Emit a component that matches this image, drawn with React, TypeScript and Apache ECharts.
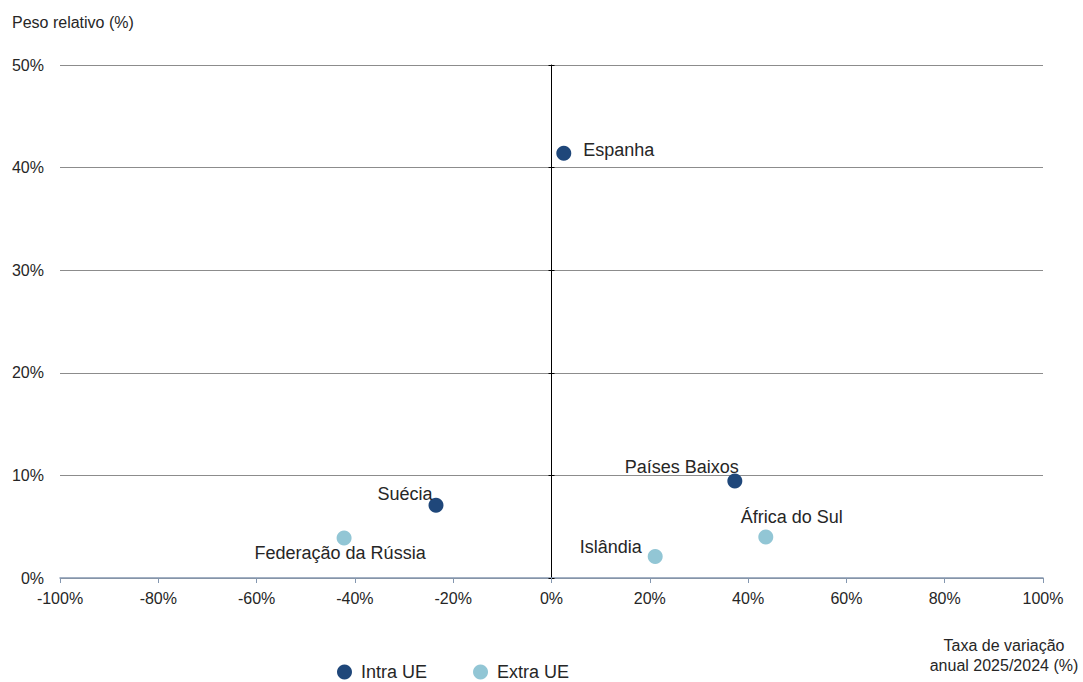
import React, { useEffect, useRef } from "react";
import * as echarts from "echarts";

const intraNames = ["Espanha", "Países Baixos", "Suécia"];
const intraX = [2.5, 37.3, -23.5];
const intraY = [41.4, 9.45, 7.1];

const extraNames = ["Federação da Rússia", "Islândia", "África do Sul"];
const extraX = [-42.2, 21.1, 43.6];
const extraY = [3.9, 2.1, 4.0];

const xTicks = [-100, 100, 20];
const yTicks = [0, 50, 10];

const labelCfg: Record<string, any> = {
  "Espanha": { position: "right", distance: 12, offset: [0, -3] },
  "Países Baixos": { position: "top", offset: [-53, 7] },
  "Suécia": { position: "top", offset: [-31, 10] },
  "Federação da Rússia": { position: "bottom", offset: [-4, -6] },
  "Islândia": { position: "left", distance: 6, offset: [0, -9] },
  "África do Sul": { position: "top", offset: [26, 2] },
};

const DARK = "#1f477a";
const LIGHT = "#92c6d5";
const TXT = "#262626";
const FONT = "Liberation Sans, Arial, sans-serif";

function mk(names: string[], xs: number[], ys: number[]) {
  return names.map((n, i) => ({
    name: n,
    value: [xs[i], ys[i]],
    label: { show: true, formatter: n, ...labelCfg[n] },
  }));
}

const GRID_W = 1083 - 60 - 40;

export default function App() {
  const ref = useRef<HTMLDivElement>(null);
  useEffect(() => {
    const chart = echarts.init(ref.current!, null, { renderer: "svg" });
    const yBase = {
      type: "value",
      min: yTicks[0],
      max: yTicks[1],
      interval: yTicks[2],
    };
    chart.setOption({
      animation: false,
      textStyle: { fontFamily: FONT },
      grid: { left: 60, right: 40, top: 65, bottom: 104 },
      graphic: [
        {
          type: "text",
          left: 12,
          top: 14,
          style: { text: "Peso relativo (%)", font: `16px ${FONT}`, fill: TXT },
        },
        {
          type: "text",
          x: 1004,
          y: 635,
          style: {
            text: "Taxa de variação\nanual 2025/2024 (%)",
            font: `16px ${FONT}`,
            fill: TXT,
            align: "center",
            lineHeight: 20,
          },
        },
      ],
      legend: {
        left: 337,
        top: 663,
        padding: 0,
        itemWidth: 15,
        itemHeight: 15,
        itemGap: 46,
        icon: "circle",
        textStyle: { fontSize: 18, lineHeight: 16, color: TXT, fontFamily: FONT, padding: [0, 0, 0, 4] },
        data: ["Intra UE", "Extra UE"],
      },
      xAxis: {
        type: "value",
        min: xTicks[0],
        max: xTicks[1],
        interval: xTicks[2],
        axisLine: { onZero: false, lineStyle: { color: "#8497b0", width: 1.5 } },
        axisTick: { show: true, length: 5, lineStyle: { color: "#8497b0" } },
        splitLine: { show: false },
        axisLabel: {
          formatter: (v: number) => `${v}%`,
          fontSize: 16,
          color: TXT,
          margin: 12,
        },
      },
      yAxis: [
        {
          ...yBase,
          axisLine: { show: false },
          axisTick: { show: false },
          splitLine: { show: true, lineStyle: { color: "#8c8c8c", width: 1 } },
          axisLabel: {
            formatter: (v: number) => `${v}%`,
            fontSize: 16,
            color: TXT,
            margin: 16,
          },
        },
        {
          ...yBase,
          position: "left",
          offset: -GRID_W / 2,
          axisLine: { show: true, onZero: false, lineStyle: { color: "#000", width: 1 } },
          axisTick: { show: true, length: 3, lineStyle: { color: "#000" } },
          splitLine: { show: false },
          axisLabel: { show: false },
        },
        {
          ...yBase,
          position: "left",
          offset: -GRID_W / 2,
          axisLine: { show: false },
          axisTick: { show: true, inside: true, length: 3, lineStyle: { color: "#000" } },
          splitLine: { show: false },
          axisLabel: { show: false },
        },
      ],
      series: [
        {
          name: "Intra UE",
          type: "scatter",
          symbolSize: 15,
          itemStyle: { color: DARK, opacity: 1 },
          label: { color: TXT, fontSize: 18, fontFamily: FONT },
          data: mk(intraNames, intraX, intraY),
          z: 5,
        },
        {
          name: "Extra UE",
          type: "scatter",
          symbolSize: 15,
          itemStyle: { color: LIGHT, opacity: 1 },
          label: { color: TXT, fontSize: 18, fontFamily: FONT },
          data: mk(extraNames, extraX, extraY),
          z: 5,
        },
      ],
    });
    return () => chart.dispose();
  }, []);
  return <div ref={ref} style={{ width: 1083, height: 682, position: "absolute", left: 0, top: 0 }} />;
}
